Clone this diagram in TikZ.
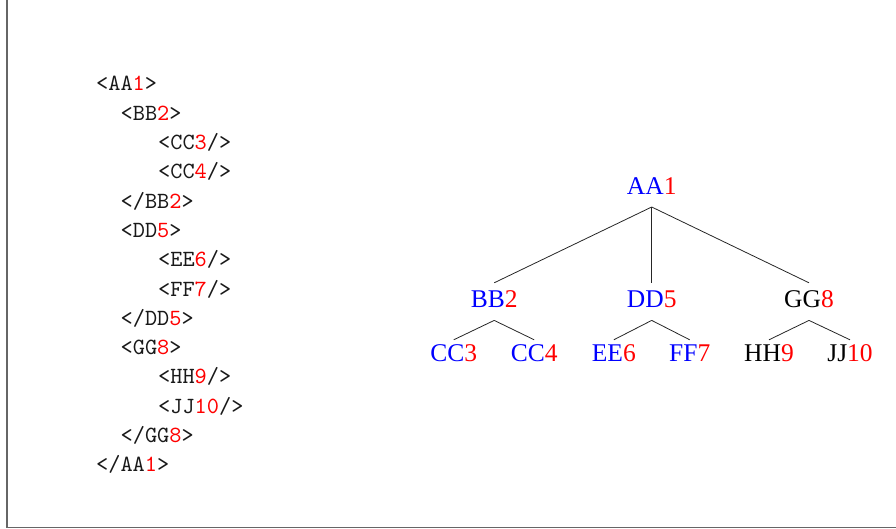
\documentclass[tikz,border=0pt]{standalone}
\usepackage{fontspec}
\newfontfamily\treefont{Liberation Serif}
\newfontfamily\codefont{lmmono10-regular}[Extension=.otf]
\tikzset{
  codeline/.style={font=\codefont\fontsize{23.2}{27}\selectfont, anchor=base west, inner sep=0pt, text=black!90},
  tnode/.style={font=\treefont\fontsize{25.5}{30}\selectfont, anchor=base, inner sep=0pt, text height=24.7pt, text depth=12.5pt},
  leaf/.style={tnode, text height=21pt},
  edge/.style={draw=black!85, line width=0.8pt},
  frame/.style={draw=black!60, line width=1.5pt}
}
\newcommand{\rd}[1]{\textcolor{red}{#1}}
\newcommand{\bl}[1]{\textcolor{blue}{#1}}
\begin{document}
\begin{tikzpicture}[x=1pt,y=-1pt]
\useasboundingbox (0,0) rectangle (896,529);
\draw[frame] (7,-2) -- (7,527.7) -- (898,527.7);
% code listing
\node[codeline] (c0)  at (96,91.0)    {<AA\rd{1}>};
\node[codeline] (c1)  at (120.5,120.3)  {<BB\rd{2}>};
\node[codeline] (c2)  at (158,149.6){<CC\rd{3}/>};
\node[codeline] (c3)  at (158,178.8){<CC\rd{4}/>};
\node[codeline] (c4)  at (120.5,208.1)  {</BB\rd{2}>};
\node[codeline] (c5)  at (120.5,237.4)  {<DD\rd{5}>};
\node[codeline] (c6)  at (158,266.7){<EE\rd{6}/>};
\node[codeline] (c7)  at (158,296.0){<FF\rd{7}/>};
\node[codeline] (c8)  at (120.5,325.2)  {</DD\rd{5}>};
\node[codeline] (c9)  at (120.5,354.5)  {<GG\rd{8}>};
\node[codeline] (c10) at (158,383.8){<HH\rd{9}/>};
\node[codeline] (c11) at (158,413.1){<JJ\rd{10}/>};
\node[codeline] (c12) at (120.5,442.4)  {</GG\rd{8}>};
\node[codeline] (c13) at (96,471.7)   {</AA\rd{1}>};
% tree
\node[tnode] (aa) at (651.7,194.3) {\bl{AA}\rd{1}};
\node[tnode] (bb) at (494.2,307.7) {\bl{BB}\rd{2}};
\node[tnode] (dd) at (651.7,307.7) {\bl{DD}\rd{5}};
\node[tnode] (gg) at (809,307.7) {GG\rd{8}};
\node[leaf] (cc3) at (453.7,361) {\bl{CC}\rd{3}};
\node[leaf] (cc4) at (534.2,361) {\bl{CC}\rd{4}};
\node[leaf] (ee) at (613.8,361) {\bl{EE}\rd{6}};
\node[leaf] (ff) at (689.7,361) {\bl{FF}\rd{7}};
\node[leaf] (hh) at (769,361) {HH\rd{9}};
\node[leaf] (jj) at (850,361) {JJ\rd{10}};
\draw[edge] (aa.south) -- (bb.north);
\draw[edge] (aa.south) -- (dd.north);
\draw[edge] (aa.south) -- (gg.north);
\draw[edge] (bb.south) -- (cc3.north);
\draw[edge] (bb.south) -- (cc4.north);
\draw[edge] (dd.south) -- (ee.north);
\draw[edge] (dd.south) -- (ff.north);
\draw[edge] (gg.south) -- (hh.north);
\draw[edge] (gg.south) -- (jj.north);
\end{tikzpicture}
\end{document}
